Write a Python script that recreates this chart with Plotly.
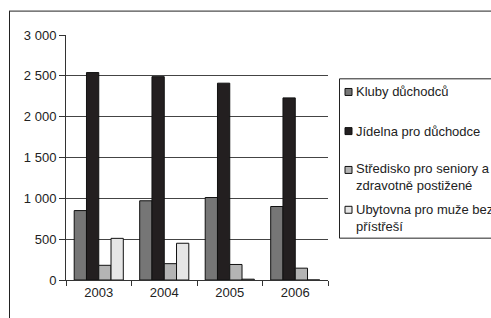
import plotly.graph_objects as go

years = ["2003", "2004", "2005", "2006"]
kluby = [850, 970, 1010, 900]
jidelna = [2540, 2490, 2410, 2230]
stredisko = [180, 200, 190, 145]
ubytovna = [510, 450, 10, 0]

series_names = ["Kluby důchodců", "Jídelna pro důchodce",
                "Středisko pro seniory a<br>zdravotně postižené",
                "Ubytovna pro muže bez<br>přístřeší"]
series_values = [kluby, jidelna, stredisko, ubytovna]
colors = ["#767676", "#231f20", "#b4b4b4", "#e6e6e6"]

y_tickvals = [0, 500, 1000, 1500, 2000, 2500, 3000]
y_ticktext = ["0", "500", "1 000", "1 500", "2 000", "2 500", "3 000"]

W, H = 491, 318
L, R = 66, 328
T, B = 34.5, 280.5
FONT = "Liberation Sans, Arial, sans-serif"

def px(x):
    return (x - L) / (R - L)

def py(y):
    return (B - y) / (B - T)

fig = go.Figure()
for name, vals, c in zip(series_names, series_values, colors):
    fig.add_trace(go.Bar(x=years, y=vals, name=name,
                         marker=dict(color=c, line=dict(color="#111111", width=1)),
                         showlegend=False))

shapes = []
# outer frame
shapes.append(dict(type="line", xref="paper", yref="paper", x0=px(9), x1=px(700), y0=py(10.5), y1=py(10.5),
                   line=dict(color="#222222", width=1)))
shapes.append(dict(type="line", xref="paper", yref="paper", x0=px(9.5), x1=px(9.5), y0=py(10.5), y1=py(500),
                   line=dict(color="#222222", width=1)))
# legend box
shapes.append(dict(type="rect", xref="paper", yref="paper", x0=px(339.5), x1=px(700), y0=py(78.5), y1=py(238.5),
                   line=dict(color="#222222", width=1), fillcolor="white"))

annotations = []
leg_text_y = [91.7, 131, 177.5, 218]
leg_sq_y = [91.7, 131, 170, 210]
for name, c, ty, sy in zip(series_names, colors, leg_text_y, leg_sq_y):
    shapes.append(dict(type="rect", xref="paper", yref="paper", x0=px(345), x1=px(352),
                       y0=py(sy - 3.5), y1=py(sy + 3.5),
                       line=dict(color="#111111", width=1), fillcolor=c))
    annotations.append(dict(text=name, xref="paper", yref="paper", x=px(354), y=py(ty),
                            xanchor="left", yanchor="middle", showarrow=False, align="left",
                            font=dict(family=FONT, size=13, color="#222222")))

fig.update_layout(
    width=W, height=H,
    margin=dict(l=L, r=W - R, t=T, b=H - B, autoexpand=False),
    paper_bgcolor="white", plot_bgcolor="white",
    barmode="group", bargap=0.25, bargroupgap=0,
    font=dict(family=FONT, size=13, color="#222222"),
    shapes=shapes, annotations=annotations, hovermode=False,
    xaxis=dict(type="category", showline=True, linecolor="#333333", linewidth=1,
               ticks="outside", tickson="boundaries", ticklen=5, tickcolor="#333333",
               tickfont=dict(size=13), showgrid=False),
    yaxis=dict(range=[0, 3000], tickvals=y_tickvals, ticktext=y_ticktext, showline=True,
               linecolor="#333333", linewidth=1, ticks="outside", ticklen=6, tickcolor="#333333",
               showgrid=True, gridcolor="#444444", gridwidth=1, zeroline=False,
               tickfont=dict(size=13)),
)
fig.write_html("out.html",
               config={"displayModeBar": False, "staticPlot": True},
               post_script="document.documentElement.style.overflow='hidden';"
                           "document.body.style.overflow='hidden';"
                           "document.body.style.margin='0';")
